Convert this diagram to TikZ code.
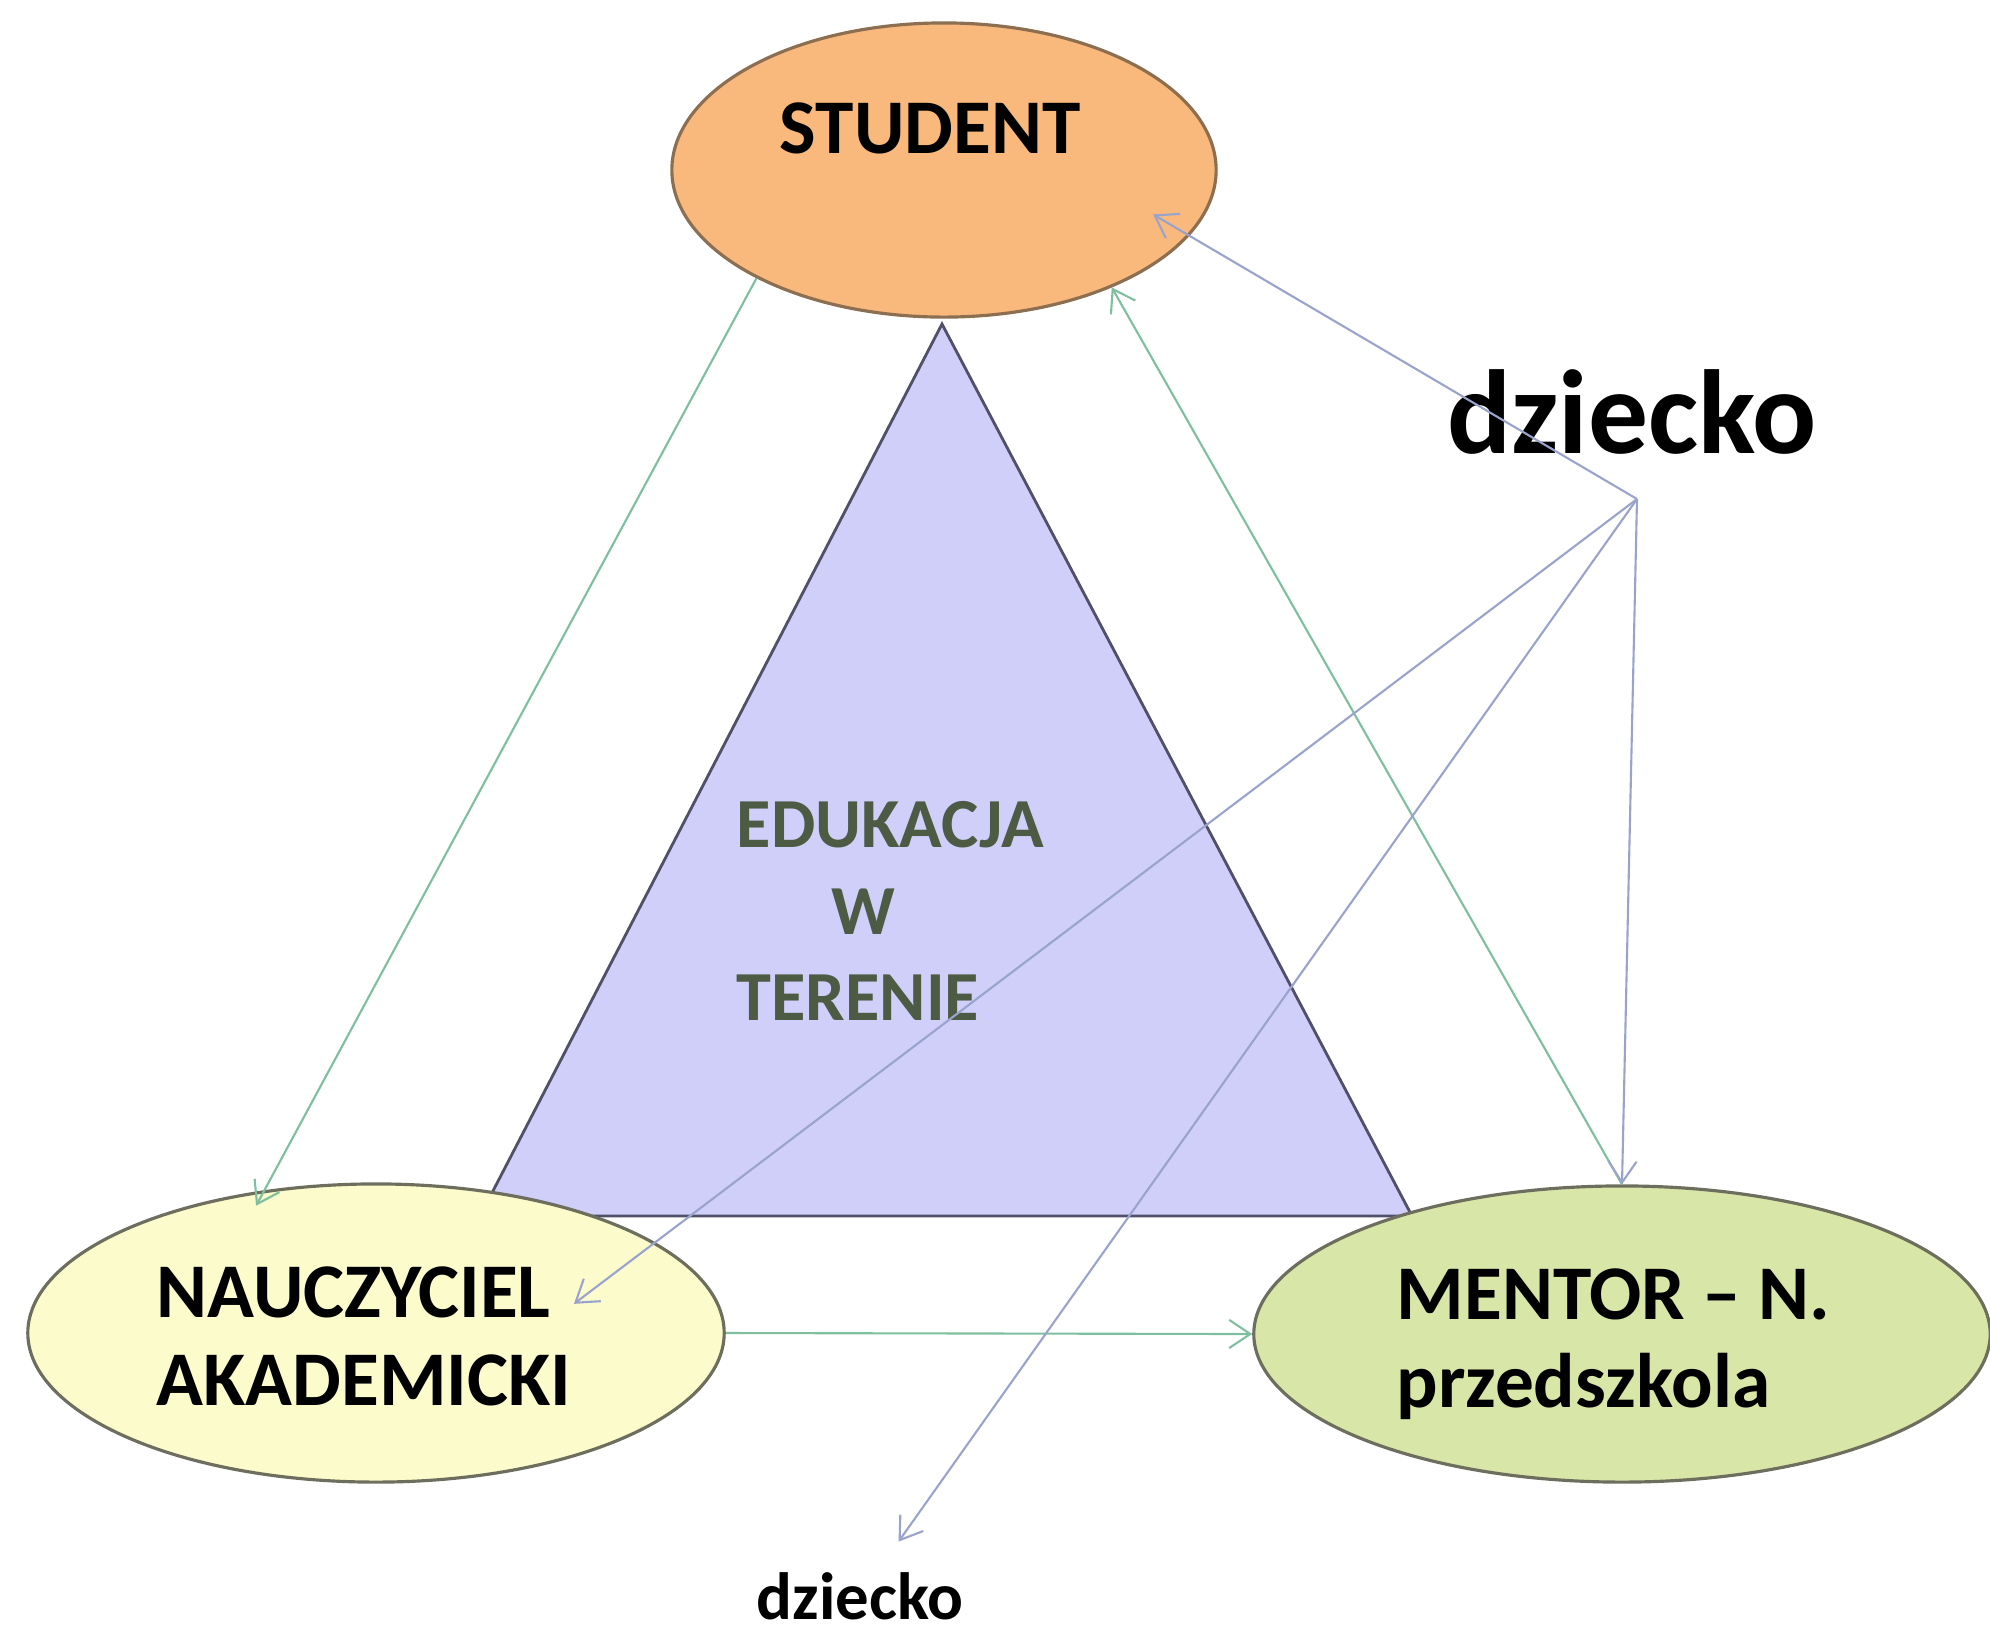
\documentclass[tikz,border=0pt]{standalone}
\usepackage{fontspec}
\setmainfont{Carlito}
\usetikzlibrary{shapes.geometric,arrows.meta}
\definecolor{studentfill}{HTML}{F9B87C}
\definecolor{studentline}{HTML}{8C6E50}
\definecolor{nauczfill}{HTML}{FBFBCB}
\definecolor{mentorfill}{HTML}{D8E6A8}
\definecolor{elipsline}{HTML}{6E6E5E}
\definecolor{trojfill}{HTML}{CFCFFA}
\definecolor{trojline}{HTML}{505068}
\definecolor{zielony}{HTML}{7DBF9E}
\definecolor{niebieski}{HTML}{9AA3CC}
\definecolor{edutxt}{HTML}{4D5A44}

\begin{document}
\begin{tikzpicture}[x=0.01cm,y=-0.01cm,
  elips/.style={ellipse, draw, line width=0.9pt, inner sep=0pt},
  lbl/.style={font=\bfseries\fontsize{22}{25}\selectfont, align=left, inner sep=0pt},
  strz/.style={line width=0.6pt, -{Straight Barb[length=6pt,width=8pt]}},
  zielona/.style={strz, draw=zielony},
  niebieska/.style={strz, draw=niebieski}]
\useasboundingbox (0,0) rectangle (1990,1632);

% trojkat
\draw [fill=trojfill, draw=trojline, line width=0.8pt] (942,324) -- (480,1216) -- (1412,1216) -- cycle;
\node [lbl, anchor=west, text=edutxt, font=\bfseries\fontsize{20}{24.5}\selectfont] (edu) at (736,911)
  {EDUKACJA\\\hspace*{27pt}W\\TERENIE};

% elipsy
\node [elips, fill=studentfill, draw=studentline, minimum width=5.44cm, minimum height=2.94cm] (student) at (944,170) {};
\node [elips, fill=nauczfill, draw=elipsline, minimum width=6.96cm, minimum height=2.98cm] (naucz) at (376,1333) {};
\node [elips, fill=mentorfill, draw=elipsline, minimum width=7.36cm, minimum height=2.96cm] (mentor) at (1622,1334) {};

\node [lbl] (studenttxt) at (930,128) {STUDENT};
\node [lbl, anchor=west] (nauczytxt) at (156,1336) {NAUCZYCIEL\\AKADEMICKI};
\node [lbl, anchor=west] (mentortxt) at (1396,1344) {MENTOR -- N.\\przedszkola};

% dziecko
\node [font=\bfseries\fontsize{34}{40}\selectfont, inner sep=0pt] (dziecko) at (1632,412) {dziecko};
\node [font=\bfseries\fontsize{19}{22}\selectfont, inner sep=2pt] (dziecko2) at (860,1596) {dziecko};
\coordinate (hub) at (1637,499);

% strzalki
\draw [zielona, shorten >=-5pt] (student.210) -- (naucz.128);
\draw [zielona] (mentor.north) -- (student.325);
\draw [zielona] (naucz.east) -- (mentor.west);
\draw [niebieska, shorten >=-12pt] (hub) -- (student.345);
\draw [niebieska, shorten >=-29pt] (hub) -- (naucz.18);
\draw [niebieska, shorten >=8pt] (hub) -- (dziecko2);
\draw [niebieska] (hub) -- (mentor.north);
\end{tikzpicture}
\end{document}
